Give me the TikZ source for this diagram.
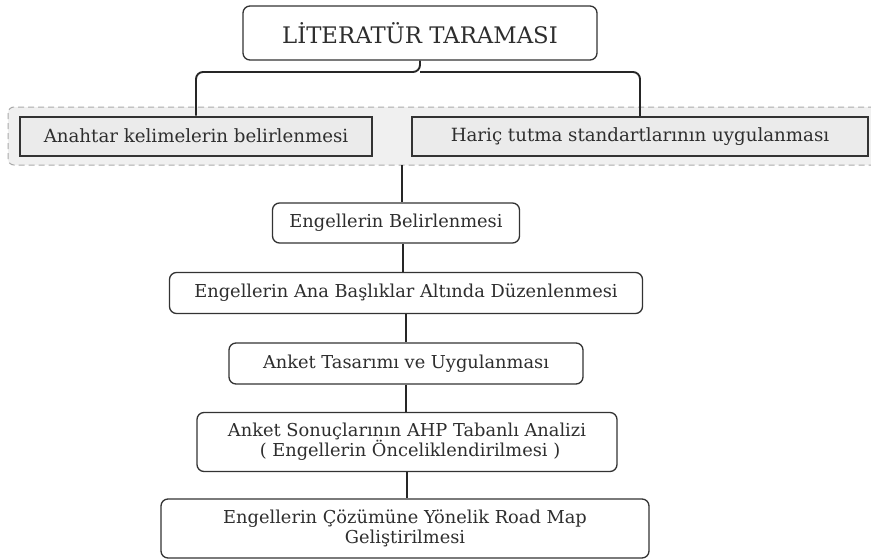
\documentclass[tikz,border=0pt]{standalone}
\usepackage{fontspec}
\setmainfont{DejaVu Serif}
\definecolor{txt}{HTML}{2E2E2E}
\definecolor{bord}{HTML}{333333}
\definecolor{grpfill}{HTML}{F0F0F0}
\definecolor{grpline}{HTML}{AAAAAA}
\definecolor{boxfill}{HTML}{EBEBEB}
\begin{document}
\begin{tikzpicture}[x=1pt,y=-1pt,
  rbox/.style={draw=bord, line width=1.3pt, rounded corners=7pt, fill=white, text=txt,
     inner sep=0pt, align=center, font=\fontsize{17.8}{20}\selectfont},
  gbox/.style={draw=bord, line width=2pt, fill=boxfill, text=txt, inner sep=0pt,
     font=\fontsize{18.2}{20}\selectfont},
  grp/.style={draw=grpline, dash pattern=on 6pt off 4pt, line width=1pt, rounded corners=6pt, fill=grpfill},
  link/.style={draw=black!85, line width=1.9pt}]
\useasboundingbox (0,0) rectangle (871,560);
% group
\draw[grp] (8,107) rectangle (880,165);
\coordinate (gb) at (402,165);
% top
\node[rbox, minimum width=354pt, minimum height=54pt, font=\fontsize{22.8}{26}\selectfont] (top) at (420,33) {LİTERATÜR TARAMASI};
\node[gbox, minimum width=352pt, minimum height=39pt] (left) at (196,136) {Anahtar kelimelerin belirlenmesi};
\node[gbox, minimum width=456pt, minimum height=39pt] (right) at (640,136.5) {Hariç tutma standartlarının uygulanması};
\node[rbox, minimum width=247pt, minimum height=40pt] (eb) at (396,223) {Engellerin Belirlenmesi};
\node[rbox, minimum width=473pt, minimum height=41pt] (ana) at (406,293) {Engellerin Ana Başlıklar Altında Düzenlenmesi};
\node[rbox, minimum width=354pt, minimum height=41pt] (tas) at (406,363.5) {Anket Tasarımı ve Uygulanması};
\node[rbox, minimum width=420pt, minimum height=59pt] (ahp) at (407,442) {Anket Sonuçlarının AHP Tabanlı Analizi\\\hspace*{6pt}( Engellerin Önceliklendirilmesi )};
\node[rbox, minimum width=488pt, minimum height=59pt] (road) at (405,528.5) {Engellerin Çözümüne Yönelik Road Map\\Geliştirilmesi};
% connectors
\draw[link, rounded corners=7pt] (top.south) -- (420,72) -| (left.north);
\draw[link, rounded corners=7pt] (420,72) -| (right.north);
\draw[link] (gb) -- (gb |- eb.north);
\draw[link] ([xshift=7pt]eb.south) -- ([xshift=7pt]eb.south |- ana.north);
\draw[link] (ana.south) -- (ana.south |- tas.north);
\draw[link] (tas.south) -- (tas.south |- ahp.north);
\draw[link] (ahp.south) -- (ahp.south |- road.north);
\end{tikzpicture}
\end{document}
